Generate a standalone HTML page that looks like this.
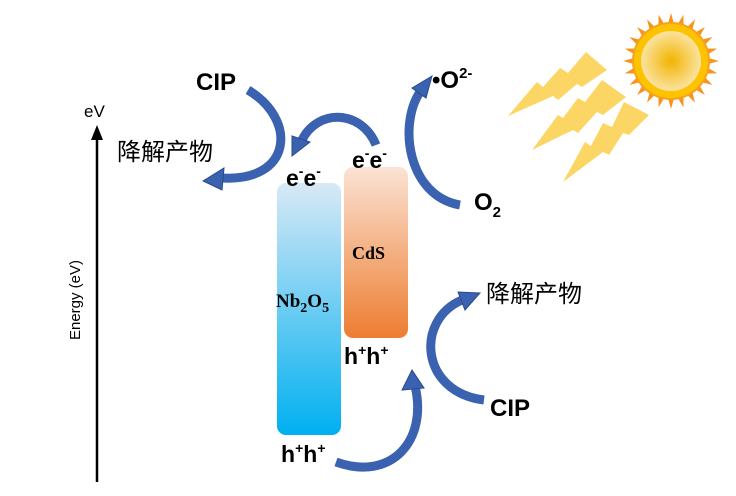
<!DOCTYPE html>
<html><head><meta charset="utf-8"><style>
body{margin:0;background:#fff;}
svg text{font-family:"Liberation Sans","Noto Sans CJK SC",sans-serif;}
</style></head><body>
<svg width="736" height="491" viewBox="0 0 736 491" xmlns="http://www.w3.org/2000/svg">
<defs>
<linearGradient id="gb" x1="0" y1="0" x2="0" y2="1"><stop offset="0" stop-color="#d8e9f6"/><stop offset="1" stop-color="#00b0f0"/></linearGradient>
<linearGradient id="go" x1="0" y1="0" x2="0" y2="1"><stop offset="0" stop-color="#fbe3d4"/><stop offset="1" stop-color="#ed7d31"/></linearGradient>
<radialGradient id="gs" cx="0.5" cy="0.5" r="0.5"><stop offset="0" stop-color="#f2b400"/><stop offset="1" stop-color="#fbe3a0"/></radialGradient>
</defs>
<line x1="97" y1="135" x2="97" y2="482" stroke="#000" stroke-width="2.5"/>
<polygon points="97,125 91,140 103,140" fill="#000"/>
<text x="84" y="117" font-size="17">eV</text>
<text transform="translate(80,300) rotate(-90)" font-size="15" text-anchor="middle">Energy (eV)</text>
<rect x="277" y="183" width="64" height="252" rx="9" fill="url(#gb)"/>
<rect x="344" y="167" width="64" height="171" rx="9" fill="url(#go)"/>
<text x="276" y="307" font-weight="bold" font-size="19" style="font-family:'Liberation Serif',serif">Nb<tspan font-size="14" dy="5">2</tspan><tspan dy="-5">O</tspan><tspan font-size="14" dy="5">5</tspan></text>
<text x="352" y="259" font-weight="bold" font-size="18" style="font-family:'Liberation Serif',serif">CdS</text>
<g font-weight="bold" font-size="23">
<text x="286" y="186">e<tspan font-size="14" dy="-10">-</tspan><tspan dy="10">e</tspan><tspan font-size="14" dy="-10">-</tspan></text>
<text x="352" y="168">e<tspan font-size="14" dy="-10">-</tspan><tspan dy="10">e</tspan><tspan font-size="14" dy="-10">-</tspan></text>
<text x="344" y="364">h<tspan font-size="14" dy="-9">+</tspan><tspan dy="9">h</tspan><tspan font-size="14" dy="-9">+</tspan></text>
<text x="281" y="462">h<tspan font-size="14" dy="-9">+</tspan><tspan dy="9">h</tspan><tspan font-size="14" dy="-9">+</tspan></text>
<text x="196" y="90" font-size="24">CIP</text>
<text x="490" y="416" font-size="24">CIP</text>
<text x="432" y="88" font-size="24">•O<tspan font-size="15" dy="-10">2-</tspan></text>
<text x="474" y="210" font-size="24">O<tspan font-size="15" dy="7">2</tspan></text>
</g>
<text x="117" y="160" font-size="24" style="font-family:'Noto Sans CJK SC',sans-serif">降解产物</text>
<text x="486" y="302" font-size="24" style="font-family:'Noto Sans CJK SC',sans-serif">降解产物</text>
<g fill="none" stroke="#3a62b0" stroke-width="9" stroke-linecap="butt">
<path d="M248,90 C298,120 292,182 222,178"/>
<path d="M376,145 C362,110 318,108 302,140"/>
<path d="M460,205 C408,196 398,125 420,92"/>
<path d="M336,462 C392,482 428,440 415,386"/>
<path d="M484,400 C420,392 415,320 462,300"/>
</g>
<g fill="#3a62b0" stroke="#2b4a8a" stroke-width="1">
<polygon points="203,181 224,168 222,190"/>
<polygon points="292,156 292,136 310,142"/>
<polygon points="432,76 412,88 426,98"/>
<polygon points="412,370 402,390 424,388"/>
<polygon points="480,293 458,292 465,310"/>
</g>
<g fill="#fcd664">
<polygon points="508,116 537,82 543,87 560,68 568,73 586,52 607,70 582,87 577,84 558,100 553,96"/>
<polygon points="532,150 558,115 563,118 578,98 585,102 602,80 626,97 603,115 597,112 578,133 573,130"/>
<polygon points="563,182 585,142 591,146 603,123 612,127 624,102 649,115 629,135 623,133 609,155 603,152"/>
</g>
<g transform="translate(671,61)">
<g fill="#f7931e">
<polygon points="0,-48 -5,-30 5,-30" transform="rotate(0)"/>
<polygon points="0,-48 -5,-30 5,-30" transform="rotate(15)"/>
<polygon points="0,-48 -5,-30 5,-30" transform="rotate(30)"/>
<polygon points="0,-48 -5,-30 5,-30" transform="rotate(45)"/>
<polygon points="0,-48 -5,-30 5,-30" transform="rotate(60)"/>
<polygon points="0,-48 -5,-30 5,-30" transform="rotate(75)"/>
<polygon points="0,-48 -5,-30 5,-30" transform="rotate(90)"/>
<polygon points="0,-48 -5,-30 5,-30" transform="rotate(105)"/>
<polygon points="0,-48 -5,-30 5,-30" transform="rotate(120)"/>
<polygon points="0,-48 -5,-30 5,-30" transform="rotate(135)"/>
<polygon points="0,-48 -5,-30 5,-30" transform="rotate(150)"/>
<polygon points="0,-48 -5,-30 5,-30" transform="rotate(165)"/>
<polygon points="0,-48 -5,-30 5,-30" transform="rotate(180)"/>
<polygon points="0,-48 -5,-30 5,-30" transform="rotate(195)"/>
<polygon points="0,-48 -5,-30 5,-30" transform="rotate(210)"/>
<polygon points="0,-48 -5,-30 5,-30" transform="rotate(225)"/>
<polygon points="0,-48 -5,-30 5,-30" transform="rotate(240)"/>
<polygon points="0,-48 -5,-30 5,-30" transform="rotate(255)"/>
<polygon points="0,-48 -5,-30 5,-30" transform="rotate(270)"/>
<polygon points="0,-48 -5,-30 5,-30" transform="rotate(285)"/>
<polygon points="0,-48 -5,-30 5,-30" transform="rotate(300)"/>
<polygon points="0,-48 -5,-30 5,-30" transform="rotate(315)"/>
<polygon points="0,-48 -5,-30 5,-30" transform="rotate(330)"/>
<polygon points="0,-48 -5,-30 5,-30" transform="rotate(345)"/>
</g>
<circle r="38" fill="#fdc300" stroke="#f7a21b" stroke-width="2"/>
<circle r="30" fill="url(#gs)"/>
</g>
</svg>
</body></html>
